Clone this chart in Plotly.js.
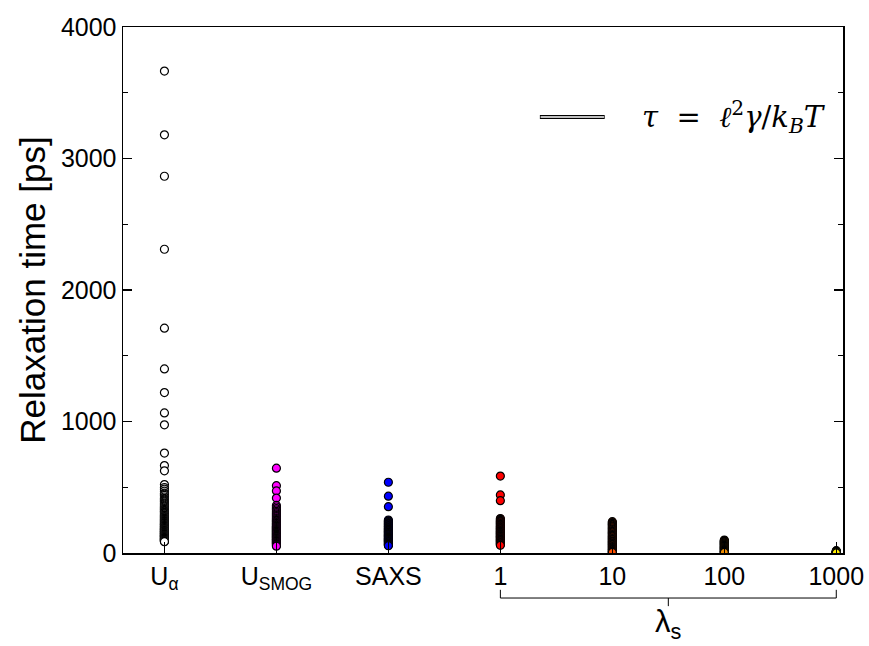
<!DOCTYPE html>
<html>
<head>
<meta charset="utf-8">
<script src="https://cdn.plot.ly/plotly-3.0.1.min.js"></script>
<style>html,body{margin:0;padding:0;background:#fff;}#chart{width:869px;height:646px;}</style>
</head>
<body>
<div id="chart"></div>
<script>
// Categories (x positions 0..6)
const categories = ["U<sub>α</sub>", "U<sub>SMOG</sub>", "SAXS", "1", "10", "100", "1000"];

// Relaxation times [ps] per column
const uAlpha = [3665, 3180, 2865, 2310, 1710, 1400, 1220, 1065, 975, 760, 665, 625, 520, 498, 485, 470, 455, 447, 438, 426, 415, 409, 402, 394, 388, 379, 371, 363, 356, 350, 344, 337, 331, 324, 318, 313, 309, 303, 297, 291, 286, 281, 277, 272, 268, 263, 259, 255, 251, 247, 244, 240, 236, 232, 229, 225, 221, 218, 216, 212, 209, 206, 203, 200, 197, 194, 191, 188, 186, 183, 180, 178, 176, 173, 171, 168, 166, 163, 161, 159, 157, 154, 152, 150, 148, 146, 144, 141, 139, 137, 135, 133, 131, 129, 127, 125, 123, 121, 119, 117, 115, 113, 111, 109, 107, 105, 103, 101, 99, 97, 95, 93, 91, 88, 86];
const uSmog = [645, 512, 472, 418, 362, 350, 338, 327, 316, 307, 298, 291, 284, 276, 268, 261, 254, 248, 243, 237, 232, 226, 221, 216, 211, 206, 202, 198, 194, 190, 186, 182, 178, 174, 171, 167, 164, 160, 157, 153, 150, 146, 143, 139, 136, 132, 129, 126, 122, 119, 116, 112, 109, 105, 102, 98, 95, 91, 88, 84, 80, 76, 72, 68, 63, 57, 52];
const saxs = [538, 432, 352, 251, 244, 238, 232, 226, 220, 215, 209, 204, 199, 194, 189, 184, 179, 175, 170, 166, 161, 157, 152, 148, 143, 139, 135, 131, 127, 123, 119, 115, 111, 107, 103, 99, 95, 91, 87, 83, 78, 74, 69, 65, 60, 55];
const lam1 = [585, 442, 398, 262, 255, 248, 242, 236, 230, 224, 218, 212, 206, 201, 196, 191, 186, 181, 176, 171, 166, 162, 157, 153, 148, 144, 139, 135, 130, 126, 121, 117, 112, 108, 103, 99, 94, 90, 85, 80, 75, 70, 64, 58];
const lam10 = [238, 231, 225, 218, 212, 205, 198, 191, 184, 177, 171, 164, 158, 152, 146, 140, 134, 128, 122, 116, 110, 104, 99, 93, 88, 82, 77, 71, 66, 60, 55, 49, 44, 38, 33, 27, 22, 17, 12, 8, 4];
const lam100 = [99, 94, 90, 86, 82, 78, 74, 70, 66, 62, 58, 54, 50, 46, 42, 38, 34, 30, 26, 22, 18, 14, 10, 7, 4];
const lam1000 = [18, 14, 12, 10, 8, 6, 5, 4, 3, 2, 1];

const seriesValues = [uAlpha, uSmog, saxs, lam1, lam10, lam100, lam1000];
const seriesColors = ["#ffffff", "#ff00ff", "#0000ff", "#ff0000", "#ff5000", "#ee8c00", "#ffee00"];

const traces = seriesValues.map((vals, i) => ({
  type: "scatter",
  mode: "markers",
  x: vals.map(() => i),
  y: vals,
  showlegend: false,
  hoverinfo: "y",
  marker: {size: 8, color: seriesColors[i], line: {color: "#000", width: 1.2}}
}));

const layout = {
  width: 869, height: 646,
  margin: {l: 123, r: 26, t: 27, b: 93},
  paper_bgcolor: "#fff", plot_bgcolor: "#fff",
  font: {family: "Liberation Sans, Arial, sans-serif", color: "#000", size: 25},
  showlegend: false,
  xaxis: {
    range: [-0.37, 6.06],
    tickmode: "array",
    tickvals: [0, 1, 2, 3, 4, 5, 6],
    ticktext: categories,
    ticks: "inside", ticklen: 11, tickwidth: 1.2, tickcolor: "#000",
    showline: true, linecolor: "#000", linewidth: 1.5, mirror: true,
    showgrid: false, zeroline: false,
    tickfont: {size: 25}
  },
  yaxis: {
    range: [0, 4000],
    tickvals: [0, 1000, 2000, 3000, 4000],
    ticks: "inside", ticklen: 9, tickwidth: 1.2, tickcolor: "#000",
    minor: {dtick: 500, ticks: "inside", ticklen: 5, tickcolor: "#000", tickwidth: 1},
    showline: true, linecolor: "#000", linewidth: 1.5, mirror: "allticks",
    showgrid: false, zeroline: false,
    tickfont: {size: 25},
    title: {text: "Relaxation time [ps]", font: {size: 35}, standoff: 4}
  },
  shapes: [
    // bracket under lambda_s values
    {type: "line", xref: "x", yref: "paper", x0: 3, x1: 6, y0: -0.0856, y1: -0.0856, line: {color: "#000", width: 1}},
    {type: "line", xref: "x", yref: "paper", x0: 3, x1: 3, y0: -0.0856, y1: -0.070, line: {color: "#000", width: 1}},
    {type: "line", xref: "x", yref: "paper", x0: 6, x1: 6, y0: -0.0856, y1: -0.070, line: {color: "#000", width: 1}},
    {type: "line", xref: "x", yref: "paper", x0: 4.5, x1: 4.5, y0: -0.0856, y1: -0.101, line: {color: "#000", width: 1}},
    // legend double line
    {type: "line", xref: "paper", yref: "paper", x0: 0.579, x1: 0.669, y0: 0.829, y1: 0.829, line: {color: "#000", width: 4}},
    {type: "line", xref: "paper", yref: "paper", x0: 0.580, x1: 0.668, y0: 0.829, y1: 0.829, line: {color: "#fff", width: 1.4}}
  ],
  annotations: [
    {xref: "x", yref: "paper", x: 4.5, y: -0.093, yanchor: "top", xanchor: "center", showarrow: false,
     text: "λ<sub>s</sub>", font: {size: 31}},
    {xref: "paper", yref: "paper", x: 0.718, y: 0.829, xanchor: "left", yanchor: "middle", showarrow: false,
     text: "<i>τ</i>  =  <i>ℓ</i><sup>2</sup><i>γ</i>/<i>k</i><sub><i>B</i></sub><i>T</i>",
     font: {family: "DejaVu Serif, Liberation Serif, serif", size: 29}}
  ]
};

Plotly.newPlot("chart", traces, layout, {displayModeBar: false, staticPlot: true});
</script>
</body>
</html>
